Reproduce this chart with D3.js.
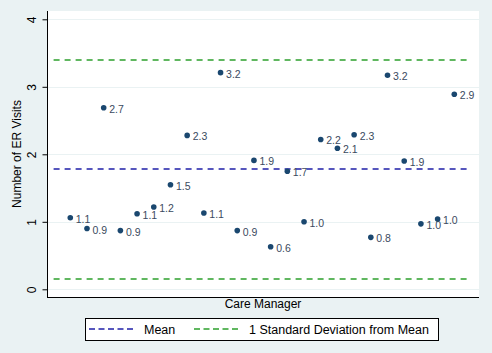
<!DOCTYPE html>
<html>
<head>
<meta charset="utf-8">
<script src="https://cdn.jsdelivr.net/npm/d3@7"></script>
<style>
  body { margin: 0; background: #eaf2f3; }
  svg { display: block; font-family: "Liberation Sans", Arial, sans-serif; }
</style>
</head>
<body>
<div class="chart"></div>
<script>
// data: ER visits per care manager
var managers = d3.range(1, 25);
var visits = [1.06, 0.90, 2.69, 0.87, 1.12, 1.22, 1.55, 2.28, 1.13, 3.21, 0.87, 1.91,
              0.63, 1.75, 1.00, 2.22, 2.09, 2.29, 0.77, 3.17, 1.90, 0.97, 1.04, 2.89];
var labels = ["1.1", "0.9", "2.7", "0.9", "1.1", "1.2", "1.5", "2.3", "1.1", "3.2", "0.9", "1.9",
              "0.6", "1.7", "1.0", "2.2", "2.1", "2.3", "0.8", "3.2", "1.9", "1.0", "1.0", "2.9"];
var yTicks = [0, 1, 2, 3, 4];
var meanValue = 1.78;
var sdBands = [3.39, 0.15];
var legendNames = ["Mean", "1 Standard Deviation from Mean"];

var svgWidth = 492, svgHeight = 353;
var plot = { left: 47, right: 479, top: 11, bottom: 297 };
var meanColor = "#1f1fa8", sdColor = "#2ca02c";

var svg = d3.select(".chart").append("svg")
    .attr("width", svgWidth)
    .attr("height", svgHeight);

svg.append("rect")
    .attr("width", svgWidth).attr("height", svgHeight)
    .attr("fill", "#eaf2f3");

// plot region
svg.append("rect")
    .attr("x", plot.left).attr("y", plot.top)
    .attr("width", plot.right - plot.left)
    .attr("height", plot.bottom - plot.top)
    .attr("fill", "#ffffff");

// scales
var x = d3.scaleLinear().domain([0, 25]).range([53.6, 471]);
var y = d3.scaleLinear().domain([0, 4]).range([289.3, 19.3]);

// grid lines
svg.append("g").selectAll("line")
    .data(yTicks)
    .enter().append("line")
    .attr("x1", plot.left).attr("x2", plot.right)
    .attr("y1", d => Math.round(y(d)) + 0.5)
    .attr("y2", d => Math.round(y(d)) + 0.5)
    .attr("stroke", "#eaf2f3")
    .attr("stroke-width", 1);

// y axis
var leftAxis = d3.axisLeft(y).tickValues(yTicks).tickSize(5).tickFormat(d3.format("d"));
var yAxisG = svg.append("g")
    .attr("transform", `translate(${plot.left + 0.5}, 0)`)
    .call(leftAxis);
yAxisG.select(".domain")
    .attr("d", `M0,${plot.top}V${plot.bottom}`)
    .attr("stroke", "#000");
yAxisG.selectAll(".tick line").attr("stroke", "#000");
yAxisG.selectAll(".tick text")
    .attr("font-size", 12)
    .attr("fill", "#000")
    .attr("x", -16)
    .attr("dy", 0)
    .attr("text-anchor", "middle")
    .attr("transform", "rotate(-90, -16, 0)")
    .attr("y", 4);

// x axis (no ticks)
svg.append("line")
    .attr("x1", plot.left).attr("x2", plot.right)
    .attr("y1", plot.bottom + 0.5).attr("y2", plot.bottom + 0.5)
    .attr("stroke", "#000");

// reference lines
svg.append("line")
    .attr("x1", x(0)).attr("x2", x(25))
    .attr("y1", Math.round(y(meanValue))).attr("y2", Math.round(y(meanValue)))
    .attr("stroke", meanColor)
    .attr("stroke-width", 1.6)
    .attr("stroke-dasharray", "6,5");

svg.append("g").selectAll("line")
    .data(sdBands)
    .enter().append("line")
    .attr("x1", x(0)).attr("x2", x(25))
    .attr("y1", d => Math.round(y(d))).attr("y2", d => Math.round(y(d)))
    .attr("stroke", sdColor)
    .attr("stroke-width", 1.6)
    .attr("stroke-dasharray", "6,5");

// points
svg.append("g").selectAll("circle")
    .data(managers)
    .enter().append("circle")
    .attr("cx", d => x(d))
    .attr("cy", (d, i) => y(visits[i]))
    .attr("r", 2.8)
    .attr("fill", "#1a476f");

// point labels
svg.append("g").selectAll("text")
    .data(managers)
    .enter().append("text")
    .attr("x", d => x(d) + 5.5)
    .attr("y", (d, i) => y(visits[i]) + 5)
    .attr("font-size", 10.5)
    .attr("fill", "#3a4a5e")
    .text((d, i) => labels[i]);

// axis titles
svg.append("text")
    .attr("transform", `translate(21, ${(plot.top + plot.bottom) / 2}) rotate(-90)`)
    .attr("text-anchor", "middle")
    .attr("font-size", 12)
    .attr("fill", "#000")
    .text("Number of ER Visits");

svg.append("text")
    .attr("x", (plot.left + plot.right) / 2)
    .attr("y", 308)
    .attr("text-anchor", "middle")
    .attr("font-size", 12)
    .attr("fill", "#000")
    .text("Care Manager");

// legend
var legend = svg.append("g");
legend.append("rect")
    .attr("x", 85.5).attr("y", 318.5)
    .attr("width", 353).attr("height", 22)
    .attr("fill", "#ffffff")
    .attr("stroke", "#000");

var legendItems = [
    { name: legendNames[0], color: meanColor, x1: 89, x2: 135, tx: 144 },
    { name: legendNames[1], color: sdColor, x1: 194, x2: 241, tx: 249 }
];
legendItems.forEach(function (item) {
    legend.append("line")
        .attr("x1", item.x1).attr("x2", item.x2)
        .attr("y1", 329).attr("y2", 329)
        .attr("stroke", item.color)
        .attr("stroke-width", 1.6)
        .attr("stroke-dasharray", "6,3.5");
    legend.append("text")
        .attr("x", item.tx).attr("y", 334)
        .attr("font-size", 12.5)
        .attr("fill", "#000")
        .text(item.name);
});
</script>
</body>
</html>
